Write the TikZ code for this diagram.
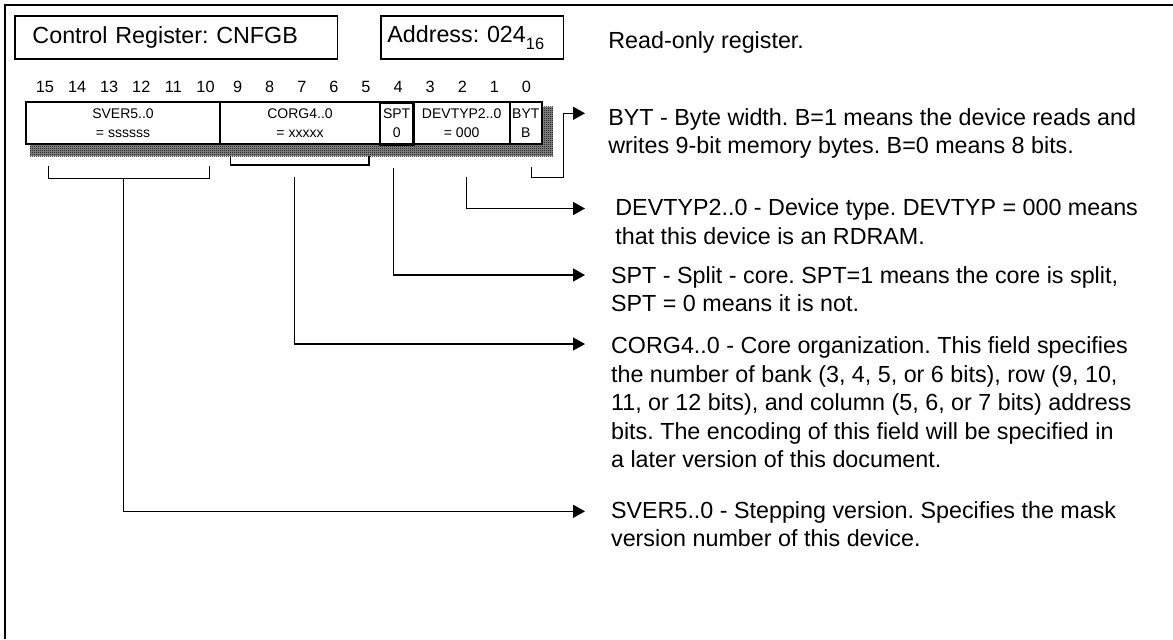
\documentclass[tikz,border=0pt]{standalone}
\usepackage{fontspec}
\setmainfont{Liberation Sans}
\usetikzlibrary{arrows.meta,patterns}
\pgfdeclarepatternformonly{regshade}{\pgfpointorigin}{\pgfqpoint{1pt}{1pt}}{\pgfqpoint{1pt}{1pt}}{%
  \pgfpathrectangle{\pgfpointorigin}{\pgfqpoint{0.5pt}{0.5pt}}%
  \pgfpathrectangle{\pgfqpoint{0.5pt}{0.5pt}}{\pgfqpoint{0.5pt}{0.5pt}}%
  \pgfusepath{fill}}
\frenchspacing
\begin{document}
\frenchspacing
\begin{tikzpicture}[x=0.5pt,y=-0.5pt,
  desc/.style={anchor=base west, inner sep=0pt, font=\fontsize{11.65pt}{14.25pt}\selectfont},
  bitnum/.style={anchor=base, inner sep=0pt, font=\fontsize{8.15pt}{9pt}\selectfont},
  cell/.style={draw, line width=1pt, fill=white, inner sep=0pt, minimum height=21pt,
               align=center, font=\fontsize{7pt}{9.7pt}\selectfont},
  titlebox/.style={draw, line width=0.8pt, minimum height=21.35pt, inner ysep=0pt, align=left,
               font=\fontsize{11.65pt}{14pt}\selectfont},
  conn/.style={line width=0.75pt},
  arr/.style={conn, -{Triangle[length=6pt,width=6.5pt]}}]
\useasboundingbox (0,0) rectangle (1173,639);
% frame
\draw[line width=1pt] (5,639) -- (5,5) -- (1173,5);
% title boxes
\node[titlebox, inner xsep=8.75pt, text width=143.75pt] (cr) at (176.25,37.35) {Control Register: CNFGB};
\node[titlebox, inner xsep=3.25pt, text width=84.75pt] (addr) at (472.05,37.35) {Address: 024\raisebox{-0.3em}{\fontsize{8.2pt}{9pt}\selectfont 16}};
\node[desc] (ro) at (608,48) {Read-only register.};
% bit numbers
\foreach \b in {0,...,15} \node[bitnum] (bit\b) at ({45+32.1*(15-\b)},92.7) {\b};
% shadow
\fill[black!45] (30,106.7) rectangle (553,156);
\fill[pattern=regshade, pattern color=black] (30,106.7) rectangle (553,156);
% register cells
\node[cell, minimum width=97pt] (sver) at (123,123.3) {SVER5..0\\= ssssss};
\node[cell, minimum width=80pt] (corg) at (300,123.3) {CORG4..0\\= xxxxx};
\node[cell, minimum width=48.35pt] (dev) at (461.65,123.3) {DEVTYP2..0\\= 000};
\node[cell, minimum width=15.85pt] (byt) at (525.85,123.3) {BYT\\B};
\node[cell, line width=1.3pt, minimum width=16.65pt] (spt) at (396.65,123.3) {SPT\\0};
% connector coordinates
\coordinate (sverL) at (48.3,166);
\coordinate (sverR) at (209.3,166);
\coordinate (sverS) at (123.3,178.3);
\coordinate (corgL) at (230.7,156);
\coordinate (corgR) at (369,156);
\coordinate (corgS) at (294.7,176.7);
\coordinate (sptS) at (393.3,167.7);
\coordinate (devS) at (466.5,177);
\coordinate (bytS) at (531.7,167);
\coordinate (bytK) at (563.5,177.3);
\coordinate (bytT) at (585,113.3);
\coordinate (devT) at (585,208.5);
\coordinate (sptT) at (585,275);
\coordinate (corgT) at (585,344);
\coordinate (sverT) at (585,511.3);
% brackets
\draw[conn] (sverL) -- (sverL |- sverS) -- (sverR |- sverS) -- (sverR);
\draw[conn] (corgL) -- ++(0,9) -| (corgR);
% connectors
\draw[arr] (sverS) |- (sverT);
\draw[arr] (corgS) |- (corgT);
\draw[arr] (sptS) |- (sptT);
\draw[arr] (devS) |- (devT);
\draw[arr] (bytS) |- (bytK) |- (bytT);
% descriptions
\node[desc] (byt1) at (608,125.7) {BYT - Byte width. B=1 means the device reads and};
\node[desc] (byt2) at (608,153.3) {writes 9-bit memory bytes. B=0 means 8 bits.};
\node[desc] (dev1) at (615,215.7) {DEVTYP2..0 - Device type. DEVTYP = 000 means};
\node[desc] (dev2) at (615,244.5) {that this device is an RDRAM.};
\node[desc] (spt1) at (610.7,283.3) {SPT - Split - core. SPT=1 means the core is split,};
\node[desc] (spt2) at (610.7,311.7) {SPT = 0 means it is not.};
\node[desc] (corg1) at (610.7,353.5) {CORG4..0 - Core organization. This field specifies};
\node[desc] (corg2) at (610.7,382) {the number of bank (3, 4, 5, or 6 bits), row (9, 10,};
\node[desc] (corg3) at (610.7,410.5) {11, or 12 bits), and column (5, 6, or 7 bits) address};
\node[desc] (corg4) at (610.7,439) {bits. The encoding of this field will be specified in};
\node[desc] (corg5) at (610.7,467.5) {a later version of this document.};
\node[desc] (sver1) at (610.7,518) {SVER5..0 - Stepping version. Specifies the mask};
\node[desc] (sver2) at (610.7,546.5) {version number of this device.};
\end{tikzpicture}
\end{document}
